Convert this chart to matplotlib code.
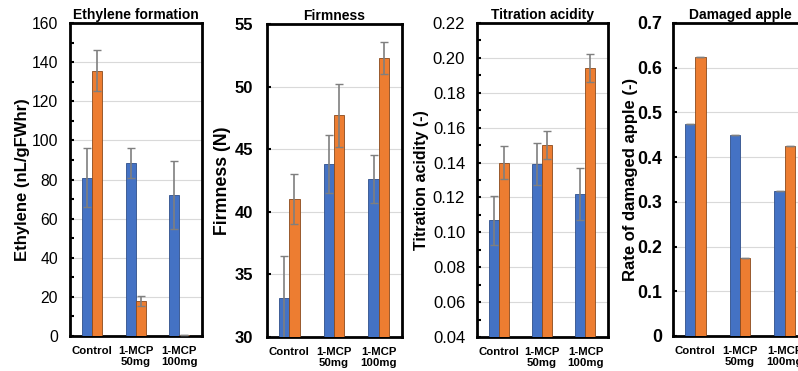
import numpy as np
import matplotlib.pyplot as plt
from matplotlib.ticker import MultipleLocator

plt.rcParams["font.family"] = ["Liberation Sans", "DejaVu Sans"]

groups = ["Control", "1-MCP\n50mg", "1-MCP\n100mg"]

# Ethylene formation
eth_blue = [81, 88.5, 72]
eth_blue_err = [15, 7.5, 17.5]
eth_orange = [135.5, 18, 0.5]
eth_orange_err = [10.5, 2.5, 0]

# Firmness
firm_blue = [33.1, 43.8, 42.6]
firm_blue_err = [3.4, 2.3, 1.9]
firm_orange = [41.0, 47.7, 52.3]
firm_orange_err = [2.0, 2.5, 1.3]

# Titration acidity
acid_blue = [0.107, 0.139, 0.122]
acid_blue_err = [0.014, 0.012, 0.015]
acid_orange = [0.140, 0.150, 0.194]
acid_orange_err = [0.0095, 0.008, 0.008]

# Damaged apple
dmg_blue = [0.475, 0.45, 0.325]
dmg_blue_err = [0, 0, 0]
dmg_orange = [0.625, 0.175, 0.425]
dmg_orange_err = [0, 0, 0]

BLUE = "#4472C4"
ORANGE = "#ED7D31"
W, H = 798, 371


def px_axes(fig, x0, x1, y0, y1):
    return fig.add_axes([x0 / W, 1 - y1 / H, (x1 - x0) / W, (y1 - y0) / H])


def panel(ax, title, ylabel, blue, berr, orange, oerr, ylim, major, minor,
          fmt, bold_ticks, tick_size, tick_pad, label_size, label_x):
    x = np.arange(len(groups))
    bw = 0.23
    ekw = dict(ecolor="#7f7f7f", elinewidth=1.2, capsize=3, capthick=1)
    ax.bar(x - bw / 2, blue, bw, yerr=berr, color=BLUE, edgecolor="#2f4f8a",
           linewidth=0.6, error_kw=ekw, zorder=3)
    ax.bar(x + bw / 2, orange, bw, yerr=oerr, color=ORANGE, edgecolor="#8a4a1c",
           linewidth=0.6, error_kw=ekw, zorder=3)
    ax.set_xlim(-0.5, 2.52)
    ax.set_ylim(*ylim)
    ax.yaxis.set_major_locator(MultipleLocator(major))
    if minor:
        ax.yaxis.set_minor_locator(MultipleLocator(minor))
        ax.tick_params(axis="y", which="minor", direction="in", length=3, width=1.5)
    ax.yaxis.set_major_formatter(fmt)
    ax.grid(axis="y", color="#d9d9d9", linewidth=0.8, zorder=0)
    ax.set_xticks(x)
    ax.set_xticklabels(groups, fontsize=8.2, fontweight="bold", linespacing=1.15)
    ax.tick_params(axis="x", length=0, pad=7)
    ax.tick_params(axis="y", which="major", direction="in", length=3, width=1.5,
                   pad=tick_pad, labelsize=tick_size)
    if bold_ticks:
        for t in ax.get_yticklabels():
            t.set_fontweight("bold")
    for s in ax.spines.values():
        s.set_linewidth(2)
    ax.set_title(title, fontsize=10, fontweight="bold", pad=3)
    ax.set_ylabel(ylabel, fontsize=label_size, fontweight="bold")
    ax.yaxis.set_label_coords(label_x, 0.5)


fig = plt.figure(figsize=(W / 100, H / 100), dpi=100)

ax1 = px_axes(fig, 70, 202, 23, 336)
panel(ax1, "Ethylene formation", "Ethylene (nL/gFWhr)", eth_blue, eth_blue_err,
      eth_orange, eth_orange_err, (0, 160), 20, 10, "{x:.0f}", False,
      11.3, 8.5, 12, -0.3)

ax2 = px_axes(fig, 267, 402, 24, 337)
panel(ax2, "Firmness", "Firmness (N)", firm_blue, firm_blue_err,
      firm_orange, firm_orange_err, (30, 55), 5, None, "{x:.0f}", True,
      12, 10, 12.8, -0.27)

ax3 = px_axes(fig, 477, 608, 23, 337)
panel(ax3, "Titration acidity", "Titration acidity (-)", acid_blue, acid_blue_err,
      acid_orange, acid_orange_err, (0.04, 0.22), 0.02, 0.01, "{x:.2f}", False,
      12, 8.5, 11.5, -0.37)

ax4 = px_axes(fig, 673, 808, 23, 336)
panel(ax4, "Damaged apple", "Rate of damaged apple (-)", dmg_blue, dmg_blue_err,
      dmg_orange, dmg_orange_err, (0, 0.7), 0.1, None,
      lambda v, p: "0" if abs(v) < 1e-9 else f"{v:.1f}", True,
      12.8, 8, 12, -0.259)

fig.savefig("out.png", dpi=100)
